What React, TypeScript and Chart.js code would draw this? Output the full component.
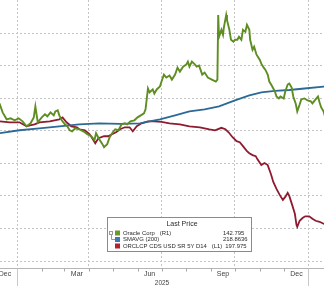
import React, { useEffect, useRef } from 'react';
import { Chart, registerables } from 'chart.js';

Chart.register(...registerables);

// ---------- data ----------
const oracleDates = [
  '2024-12-10','2024-12-14','2024-12-19','2024-12-24','2024-12-29','2025-01-03','2025-01-08','2025-01-13',
  '2025-01-18','2025-01-22','2025-01-24','2025-01-27','2025-02-01','2025-02-05','2025-02-08','2025-02-12',
  '2025-02-16','2025-02-18','2025-02-21','2025-02-23','2025-02-26','2025-03-02','2025-03-05','2025-03-08',
  '2025-03-11','2025-03-15','2025-03-20','2025-03-25','2025-03-30','2025-04-04','2025-04-08','2025-04-10',
  '2025-04-14','2025-04-18','2025-04-20','2025-04-24','2025-04-27','2025-05-01','2025-05-04','2025-05-08',
  '2025-05-12','2025-05-16','2025-05-19','2025-05-23','2025-05-28','2025-06-01','2025-06-05','2025-06-09',
  '2025-06-11','2025-06-14','2025-06-16','2025-06-20','2025-06-22','2025-06-25','2025-06-29','2025-07-01',
  '2025-07-04','2025-07-07','2025-07-11','2025-07-14','2025-07-18','2025-07-21','2025-07-24','2025-07-28',
  '2025-08-01','2025-08-03','2025-08-05','2025-08-08','2025-08-12','2025-08-14','2025-08-17','2025-08-21',
  '2025-08-24','2025-08-28','2025-09-02','2025-09-07','2025-09-09','2025-09-10','2025-09-11','2025-09-14',
  '2025-09-16','2025-09-17','2025-09-20','2025-09-21','2025-09-24','2025-09-26','2025-09-29','2025-10-01',
  '2025-10-04','2025-10-06','2025-10-09','2025-10-11','2025-10-14','2025-10-16','2025-10-19','2025-10-20',
  '2025-10-23','2025-10-25','2025-10-28','2025-11-01','2025-11-03','2025-11-06','2025-11-08','2025-11-11',
  '2025-11-13','2025-11-16','2025-11-20','2025-11-22','2025-11-25','2025-11-27','2025-12-01','2025-12-03',
  '2025-12-06','2025-12-08','2025-12-11','2025-12-13','2025-12-16','2025-12-18','2025-12-21','2025-12-23',
  '2025-12-27','2025-12-31','2026-01-04','2026-01-06','2026-01-10','2026-01-13','2026-01-15','2026-01-17',
  '2026-01-20','2026-01-22',
];
const oraclePrice = [
  192.4,178.6,167.9,169.4,166.4,169.4,164.8,157.2,
  161.8,170.9,187.8,163.3,170.9,175.5,172.5,178.6,
  174.0,180.1,181.7,174.0,166.4,160.2,157.2,151.1,
  149.5,154.1,152.6,149.5,145.0,141.9,135.8,146.5,
  137.3,129.7,125.1,129.7,140.4,148.0,152.6,151.1,
  160.2,161.8,160.2,164.8,166.4,170.9,174.0,177.0,
  183.2,215.3,209.2,213.8,207.6,213.8,218.3,226.0,
  236.7,232.1,235.2,229.0,236.7,247.4,241.3,248.9,
  252.0,256.6,248.9,256.6,252.0,248.9,250.5,236.7,
  239.8,232.1,229.0,226.0,229.0,328.4,294.8,305.5,
  297.9,308.6,328.4,320.8,305.5,290.2,287.2,290.2,
  290.2,294.8,290.2,305.5,302.4,313.1,305.5,290.2,
  274.9,279.5,267.3,259.6,253.5,247.4,244.3,236.7,
  226.0,219.9,210.7,203.1,200.0,203.1,200.0,210.7,
  221.4,222.9,216.8,203.1,192.4,180.1,190.8,198.5,
  200.0,196.9,195.4,192.4,198.5,203.1,193.9,186.2,
  180.1,171.0,
];

const smaDates = [
  '2024-12-10','2025-01-04','2025-01-29','2025-02-23','2025-03-20','2025-04-14','2025-05-10','2025-06-04',
  '2025-06-16','2025-06-29','2025-07-18','2025-08-05','2025-08-24','2025-09-11','2025-10-01','2025-10-19',
  '2025-11-03','2025-11-20','2025-12-08','2025-12-27','2026-01-20','2026-01-22',
];
const smaValues = [
  146.5,151.1,154.1,157.2,160.2,161.8,161.0,161.8,
  164.8,167.9,174.0,180.1,183.2,187.8,196.9,204.6,
  209.2,211.5,213.0,215.3,218.3,218.6,
];

const cdsDates = [
  '2024-12-10','2024-12-23','2025-01-04','2025-01-13','2025-01-17','2025-01-23','2025-01-29','2025-02-11',
  '2025-02-23','2025-02-27','2025-03-04','2025-03-10','2025-03-17','2025-03-20','2025-03-27','2025-04-02',
  '2025-04-06','2025-04-09','2025-04-13','2025-04-20','2025-04-25','2025-04-30','2025-05-05','2025-05-10',
  '2025-05-16','2025-05-22','2025-05-26','2025-05-31','2025-06-06','2025-06-14','2025-06-22','2025-07-01',
  '2025-07-11','2025-07-24','2025-08-05','2025-08-18','2025-08-30','2025-09-06','2025-09-14','2025-09-19',
  '2025-09-23','2025-09-28','2025-10-03','2025-10-07','2025-10-11','2025-10-16','2025-10-19','2025-10-23',
  '2025-10-27','2025-10-29','2025-11-03','2025-11-07','2025-11-11','2025-11-15','2025-11-18','2025-11-22',
  '2025-11-26','2025-11-30','2025-12-03','2025-12-06','2025-12-08','2025-12-12','2025-12-15','2025-12-17',
  '2025-12-18','2025-12-21','2025-12-25','2025-12-28','2026-01-02','2026-01-06','2026-01-10','2026-01-15',
  '2026-01-20','2026-01-22',
];
const cdsValues = [
  34.2,35.3,35.3,39.7,38.6,37.5,35.3,34.2,
  32.0,29.8,35.3,39.7,40.8,43.0,44.1,48.5,
  54.0,58.4,52.9,50.7,50.7,48.5,46.3,43.0,
  40.8,40.8,45.2,39.7,36.4,34.2,34.2,34.8,
  36.4,37.5,39.7,40.8,43.0,44.1,41.4,43.0,
  46.3,51.8,56.2,57.3,61.7,67.2,69.4,71.6,
  72.7,76.0,82.6,80.4,82.6,92.5,101.3,109.0,
  115.6,121.1,117.8,113.4,116.7,127.7,136.5,148.6,
  150.8,144.2,140.9,139.3,139.3,142.0,144.2,145.3,
  147.5,148.0,
];

const quarterTickDates = ['2025-01-01','2025-04-01','2025-07-01','2025-10-01','2026-01-01'];
const quarterTickLabels = ['Dec','Mar','Jun','Sep','Dec'];
const monthTickDates = [
  '2025-01-01','2025-02-01','2025-03-01','2025-04-01','2025-05-01','2025-06-01','2025-07-01',
  '2025-08-01','2025-09-01','2025-10-01','2025-11-01','2025-12-01','2026-01-01',
];
const yearDividerDates = ['2025-01-01','2026-01-01'];
const yearLabel = '2025';
const priceGridValues = [-50, 0, 50, 100, 150, 200, 250, 300];

const legendTitle = 'Last Price';
const legendNames = ['Oracle Corp', 'SMAVG (200)', 'ORCLCP CDS USD SR 5Y D14'];
const legendAxisTags = ['(R1)', '', '(L1)'];
const legendLastValues = ['142.795', '218.8636', '197.975'];

// ---------- styling ----------
const FONT = 'Liberation Sans, Arial, sans-serif';
const GREEN = '#5e8d22';
const BLUE = '#2b6a96';
const RED = '#8e1b30';
const GREEN_SW = '#6a9a2a';
const BLUE_SW = '#3b79b8';
const RED_SW = '#b8202c';
const GRID = '#c4c4c4';

const dayNum = (s: string) => {
  const [y, m, d] = s.split('-').map(Number);
  return (Date.UTC(y, m - 1, d) - Date.UTC(2025, 0, 1)) / 86400000;
};

const toPoints = (dates: string[], vals: number[]) =>
  dates.map((d, i) => ({ x: dayNum(d), y: vals[i] }));

const axisMarksPlugin = {
  id: 'axisMarks',
  afterDraw(chart: any) {
    const ctx = chart.ctx;
    const xs = chart.scales.x;
    const yb = chart.chartArea.bottom;
    ctx.save();
    ctx.lineWidth = 1;
    ctx.strokeStyle = '#a8a8a8';
    monthTickDates.forEach((d) => {
      const px = Math.round(xs.getPixelForValue(dayNum(d))) + 0.5;
      ctx.beginPath();
      ctx.moveTo(px, yb);
      ctx.lineTo(px, yb + 3);
      ctx.stroke();
    });
    ctx.strokeStyle = '#c8c8c8';
    yearDividerDates.forEach((d) => {
      const px = Math.round(xs.getPixelForValue(dayNum(d))) + 0.5;
      ctx.beginPath();
      ctx.moveTo(px, yb);
      ctx.lineTo(px, chart.height);
      ctx.stroke();
    });
    ctx.restore();
  },
};

const legendBoxPlugin = {
  id: 'legendBox',
  afterDraw(chart: any) {
    const ctx = chart.ctx;
    const bx = 107.5, by = 217.5, bw = 144, bh = 34;
    const swatches = [GREEN_SW, BLUE_SW, RED_SW];
    const rowsY = [233, 239.5, 246];
    ctx.save();
    ctx.fillStyle = '#ffffff';
    ctx.fillRect(bx, by, bw, bh);
    ctx.strokeStyle = '#8a8a8a';
    ctx.lineWidth = 1;
    ctx.strokeRect(bx, by, bw, bh);

    ctx.fillStyle = '#2a2a2a';
    ctx.textBaseline = 'middle';
    ctx.textAlign = 'center';
    ctx.font = `7px ${FONT}`;
    ctx.fillText(legendTitle, 182, 224.5);

    // small tree marker
    ctx.strokeStyle = '#9a9a9a';
    ctx.strokeRect(109.5, 231.5, 3, 3);
    ctx.beginPath();
    ctx.moveTo(111.5, 234.5);
    ctx.lineTo(111.5, 239.5);
    ctx.lineTo(115, 239.5);
    ctx.stroke();

    ctx.textAlign = 'left';
    ctx.font = `5.9px ${FONT}`;
    legendNames.forEach((name, i) => {
      const y = rowsY[i];
      ctx.fillStyle = swatches[i];
      ctx.fillRect(115, y - 2.5, 5, 5);
      ctx.fillStyle = '#2a2a2a';
      ctx.fillText(name, 123, y);
      let end = 123 + ctx.measureText(name).width;
      if (legendAxisTags[i]) {
        const tx = end + 5;
        ctx.fillText(legendAxisTags[i], tx, y);
        end = tx + ctx.measureText(legendAxisTags[i]).width;
      }
      ctx.fillText(legendLastValues[i], Math.max(223, end + 3), y);
    });
    ctx.restore();
  },
};

export default function App() {
  const ref = useRef<HTMLCanvasElement>(null);

  useEffect(() => {
    if (!ref.current) return;
    const chart = new Chart(ref.current, {
      type: 'line',
      data: {
        datasets: [
          {
            label: legendNames[0],
            data: toPoints(oracleDates, oraclePrice),
            yAxisID: 'yR',
            borderColor: GREEN,
            borderWidth: 1.9,
            pointRadius: 0,
            tension: 0,
            order: 0,
          },
          {
            label: legendNames[1],
            data: toPoints(smaDates, smaValues),
            yAxisID: 'yR',
            borderColor: BLUE,
            borderWidth: 1.8,
            pointRadius: 0,
            tension: 0,
            order: 1,
          },
          {
            label: legendNames[2],
            data: toPoints(cdsDates, cdsValues),
            yAxisID: 'yL',
            borderColor: RED,
            borderWidth: 1.8,
            pointRadius: 0,
            tension: 0,
            order: 2,
          },
        ],
      },
      options: {
        responsive: false,
        animation: false,
        layout: { padding: 0 },
        plugins: { legend: { display: false }, tooltip: { enabled: false } },
        scales: {
          x: {
            type: 'linear',
            min: -21.3,
            max: 384.5,
            afterBuildTicks: (s: any) => {
              s.ticks = quarterTickDates.map((d) => ({ value: dayNum(d) }));
            },
            ticks: {
              callback: (_v: any, i: number) => quarterTickLabels[i],
              labelOffset: -12,
              padding: 2,
              autoSkip: false,
              maxRotation: 0,
              minRotation: 0,
              color: '#444',
              font: { family: FONT, size: 7, lineHeight: 1 },
            },
            grid: { color: GRID, lineWidth: 1, drawTicks: false },
            border: { display: true, color: '#b5b5b5', dash: [2, 2] },
            title: {
              display: true,
              text: yearLabel,
              color: '#444',
              padding: { top: 0, bottom: 0 },
              font: { family: FONT, size: 6.5, lineHeight: 1 },
            },
          },
          yR: {
            position: 'right',
            min: -61.5,
            max: 351.4,
            afterBuildTicks: (s: any) => {
              s.ticks = priceGridValues.map((v) => ({ value: v }));
            },
            ticks: { display: false },
            grid: { color: GRID, lineWidth: 1, drawTicks: false },
            border: { display: false, dash: [2, 2] },
          },
          yL: {
            position: 'left',
            display: false,
            reverse: true,
            min: -100,
            max: 197,
          },
        },
      },
      plugins: [axisMarksPlugin, legendBoxPlugin],
    } as any);
    return () => chart.destroy();
  }, []);

  return (
    <div style={{ position: 'fixed', left: 0, top: 0, width: 324, height: 286, background: '#fff' }}>
      <canvas ref={ref} width={324} height={286} style={{ display: 'block' }} />
    </div>
  );
}
